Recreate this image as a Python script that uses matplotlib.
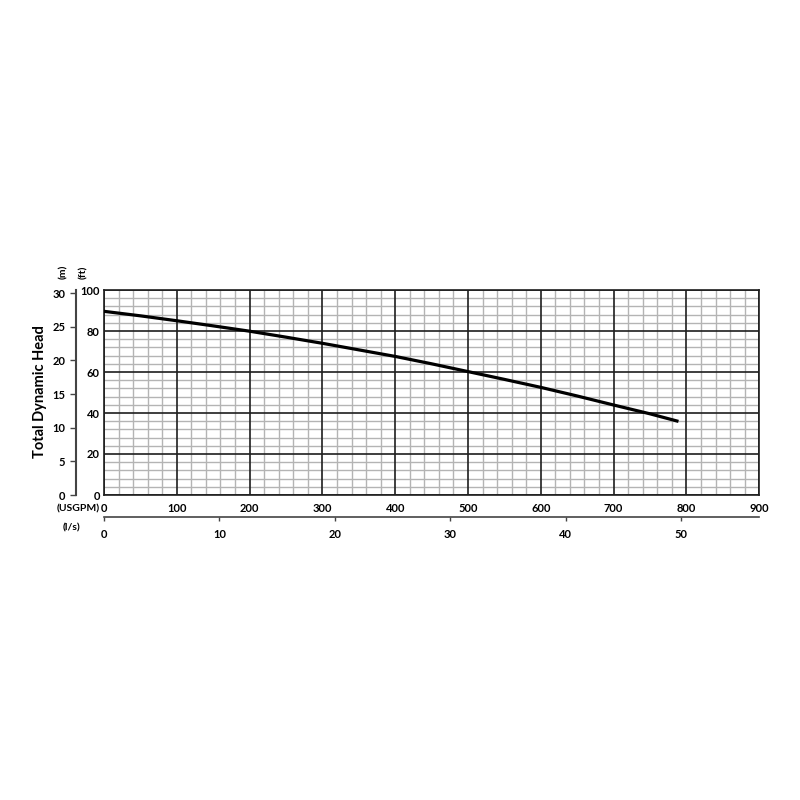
import numpy as np
import matplotlib
matplotlib.use('Agg')
import matplotlib.pyplot as plt

plt.rcParams['font.family'] = ['Lato', 'DejaVu Sans']
plt.rcParams['font.weight'] = 'bold'

# flow (USGPM) vs head (ft)
flow_gpm = [0, 50, 100, 150, 200, 250, 300, 350, 400, 450, 500,
            550, 600, 650, 700, 750, 787]
head_ft = [89.6, 87.4, 85.0, 82.5, 79.9, 77.0, 74.0, 70.8, 67.6, 64.0, 60.2,
           56.4, 52.5, 48.3, 43.9, 39.6, 36.1]

gpm_ticks = [0, 100, 200, 300, 400, 500, 600, 700, 800, 900]
ft_ticks = [0, 20, 40, 60, 80, 100]
m_ticks = [0, 5, 10, 15, 20, 25, 30]
ls_ticks = [0, 10, 20, 30, 40, 50]

FT_PER_M = 3.28084
GPM_PER_LS = 15.850

fig = plt.figure(figsize=(8, 8), dpi=100)
ax = fig.add_axes([0.13, 0.38125, 0.819, 0.25625])

ax.set_xlim(0, 900)
ax.set_ylim(0, 100)

# fine grid in grey, coarse grid in black drawn on top
ax.set_xticks(np.arange(0, 901, 20), minor=True)
ax.set_yticks(np.arange(0, 101, 4), minor=True)
ax.set_xticks(gpm_ticks)
ax.set_yticks(ft_ticks)
ax.grid(which='minor', color='#b4b4b4', lw=1.0, zorder=0)
for g in gpm_ticks:
    ax.axvline(g, color='#1e1e1e', lw=1.2, zorder=1)
for f in ft_ticks:
    ax.axhline(f, color='#1e1e1e', lw=1.2, zorder=1)
ax.set_axisbelow(True)
for s in ax.spines.values():
    s.set_color('#1e1e1e')
    s.set_linewidth(1.2)

ax.tick_params(which='both', length=0, labelsize=8)
ax.tick_params(axis='x', pad=6)
ax.tick_params(axis='y', pad=3)

ax.plot(flow_gpm, head_ft, color='black', lw=2.3, zorder=3)

# metres axis
sec_m = ax.secondary_yaxis(-0.042, functions=(lambda f: f / FT_PER_M,
                                              lambda m: m * FT_PER_M))
sec_m.set_yticks(m_ticks)
sec_m.tick_params(labelsize=8, length=4, width=1, color='#444444', pad=4)
sec_m.spines['left'].set_color('#444444')
sec_m.spines['left'].set_linewidth(1.5)

# l/s axis
sec_ls = ax.secondary_xaxis(-0.106, functions=(lambda g: g / GPM_PER_LS,
                                               lambda q: q * GPM_PER_LS))
sec_ls.set_xticks(ls_ticks)
sec_ls.tick_params(labelsize=8, length=3, width=1, color='#444444', pad=6)
sec_ls.spines['bottom'].set_color('#444444')
sec_ls.spines['bottom'].set_linewidth(1.2)

fig.text(0.079, 0.66, '(m)', rotation=90, ha='center', va='center', fontsize=7.5)
fig.text(0.104, 0.66, '(ft)', rotation=90, ha='center', va='center', fontsize=7.5)
fig.text(0.05, 0.51, 'Total Dynamic Head', rotation=90, ha='center', va='center',
         fontsize=10.5)
fig.text(0.125, 0.364, '(USGPM)', ha='right', va='center', fontsize=7.5)
fig.text(0.1, 0.34, '(l/s)', ha='right', va='center', fontsize=7.5)

fig.savefig('out.png', dpi=100)
